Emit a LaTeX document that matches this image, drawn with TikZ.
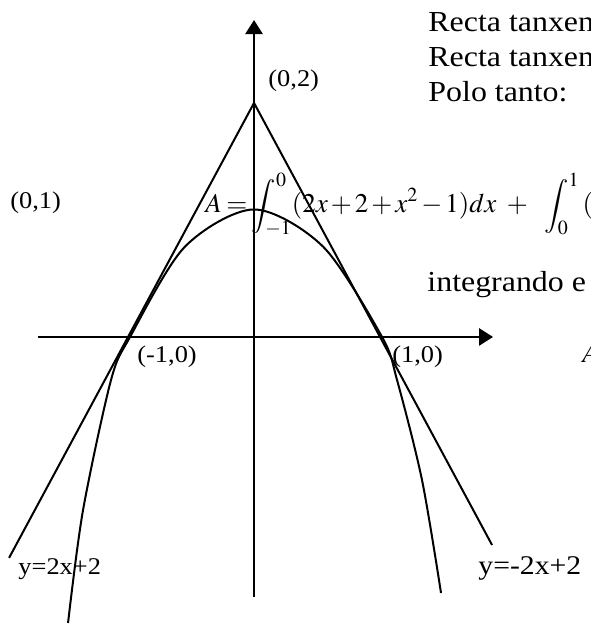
\documentclass[tikz,border=0pt]{standalone}
\usepackage{mathptmx}
\usepackage[no-math]{fontspec}
\setmainfont{Liberation Serif}[FakeStretch=1.1]
\usetikzlibrary{arrows.meta, positioning}

\begin{document}
\begin{tikzpicture}[x=63pt, y=58.5pt,
  axis/.style={line width=1.3pt, -{Triangle[length=7pt, width=8.5pt]}},
  curve/.style={line width=1pt},
  lbl/.style={inner sep=0pt, anchor=base west, font=\fontsize{12}{14}\selectfont},
  txt/.style={inner sep=0pt, anchor=base west, font=\fontsize{14.5}{17}\selectfont},
  eq/.style={inner sep=0pt, anchor=base west, font=\fontsize{13.5}{16}\selectfont}]
\useasboundingbox (-2.016,-2.453) rectangle (2.667,2.880);
\clip (-2.016,-2.453) rectangle (2.667,2.880);
\coordinate (xl) at (-1.714,0); \coordinate (xr) at (1.897,0);
\coordinate (yb) at (0,-2.222); \coordinate (yt) at (0,2.709);
\coordinate (apex) at (0,2);
\coordinate (tl) at (-1.944,-1.888); \coordinate (tr) at (1.889,-1.778);
\draw[axis] (xl) -- (xr);
\draw[axis] (yb) -- (yt);
\draw[curve] (tl) -- (apex) -- (tr);
\draw[curve] plot[smooth] coordinates {(-1.476,-2.444) (-1.357,-1.479) (-1.135,-0.368)
  (-0.984,0) (-0.55,0.77) (0,1.09) (0.55,0.77) (1.016,0) (1.135,-0.368)
  (1.333,-1.222) (1.484,-2.188)};
\node[txt] (rectaA) at (1.381,2.607) {Recta tanxen};
\node[txt] (rectaB) at (1.381,2.308) {Recta tanxen};
\node[txt] (polo) at (1.381,2.009) {Polo tanto:};
\node[txt] (integ) at (1.373,0.385) {integrando e};
\node[eq] (area) at (-0.389,1.06) {$\medmuskip=2mu\relax\thickmuskip=3mu\relax
  \displaystyle A=\int_{-1}^{0}(2x+2+x^{2}-1)dx\;\,+\;\;\;\int_{0}^{1}\,($};
\node[eq] (areaB) at (2.603,-0.214) {$A$};
\node[lbl] (p02) at (0.111,2.145) {(0,2)};
\node[lbl] (p01) at (-1.937,1.094) {(0,1)};
\node[lbl] (pm10) at (-0.929,-0.214) {(-1,0)};
\node[lbl] (p10) at (1.095,-0.214) {(1,0)};
\node[lbl] (tanL) at (-1.873,-2.034) {y=2x+2};
\node[lbl, font=\fontsize{13.5}{16}\selectfont] (tanR) at (1.778,-2.034) {y=-2x+2};
\end{tikzpicture}
\end{document}
